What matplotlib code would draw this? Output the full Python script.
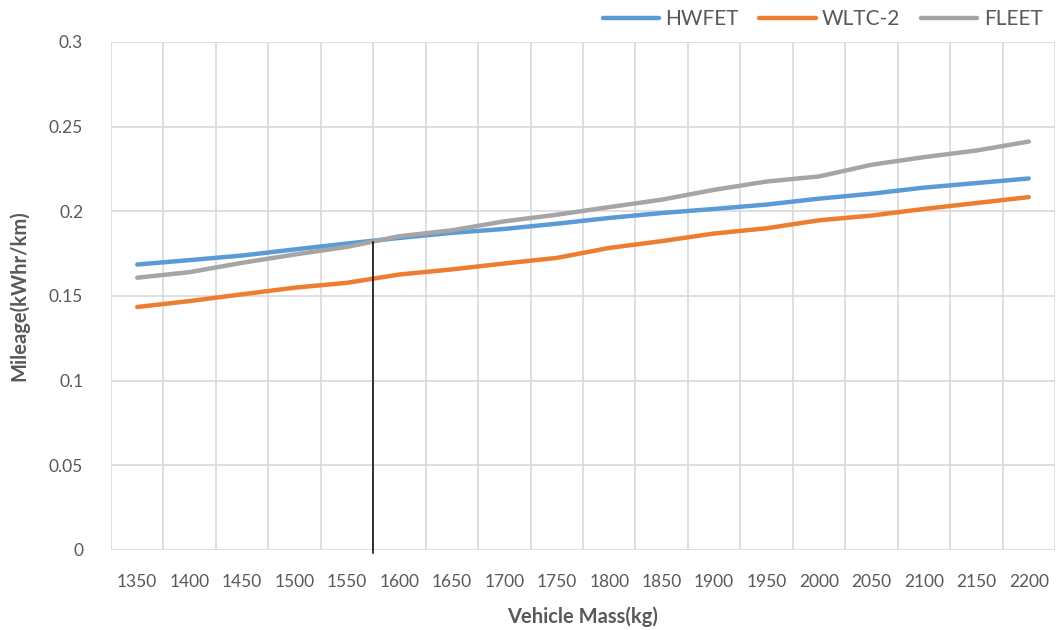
import matplotlib
matplotlib.use('Agg')
import matplotlib.pyplot as plt
import numpy as np

plt.rcParams['font.family'] = ['Lato', 'DejaVu Sans']

# vehicle mass categories (kg)
mass = [1350, 1400, 1450, 1500, 1550, 1600, 1650, 1700, 1750,
        1800, 1850, 1900, 1950, 2000, 2050, 2100, 2150, 2200]

# mileage (kWhr/km) per drive cycle
hwfet = [0.1686, 0.1712, 0.1739, 0.1775, 0.1810, 0.1843, 0.1873, 0.1896, 0.1927,
         0.1961, 0.1990, 0.2014, 0.2040, 0.2075, 0.2104, 0.2140, 0.2167, 0.2194]
wltc2 = [0.1435, 0.1470, 0.1510, 0.1549, 0.1578, 0.1627, 0.1657, 0.1692, 0.1725,
         0.1784, 0.1824, 0.1869, 0.1900, 0.1947, 0.1975, 0.2014, 0.2049, 0.2084]
fleet = [0.1608, 0.1641, 0.1696, 0.1745, 0.1790, 0.1853, 0.1888, 0.1941, 0.1980,
         0.2025, 0.2069, 0.2127, 0.2176, 0.2206, 0.2275, 0.2320, 0.2359, 0.2412]

marker_mass = 1575
marker_top = 0.182

yticks = [0, 0.05, 0.1, 0.15, 0.2, 0.25, 0.3]
yticklabels = ['0', '0.05', '0.1', '0.15', '0.2', '0.25', '0.3']

txt = '#595959'
grid = '#d9d9d9'

fig = plt.figure(figsize=(10.58, 6.3), dpi=100)
ax = fig.add_axes([111/1058, 80/630, 944/1058, 508/630])

idx = np.arange(len(mass))
ax.plot(idx, hwfet, color='#5B9BD5', lw=3.2, solid_capstyle='round', label='HWFET')
ax.plot(idx, wltc2, color='#ED7D31', lw=3.2, solid_capstyle='round', label='WLTC-2')
ax.plot(idx, fleet, color='#A5A5A5', lw=3.2, solid_capstyle='round', label='FLEET')

# marker line at the selected mass (category axis position)
xm = (marker_mass - mass[0]) / (mass[1] - mass[0])
ax.plot([xm, xm], [-0.002, marker_top], color='black', lw=1.1, clip_on=False, zorder=4)

ax.set_xlim(-0.5, len(mass) - 0.5)
ax.set_ylim(0, 0.3)
ax.set_yticks(yticks)
ax.set_yticklabels(yticklabels)
ax.set_xticks(idx)
ax.set_xticklabels([str(m) for m in mass])
# vertical gridlines between categories
for b in np.arange(-0.5, len(mass), 1.0):
    ax.axvline(b, color=grid, lw=1.2, zorder=0)
for y in yticks:
    ax.axhline(y, color=grid, lw=1.2, zorder=0)

for s in ax.spines.values():
    s.set_visible(False)
ax.tick_params(axis='both', length=0, colors=txt, labelsize=12.5)
ax.tick_params(axis='x', pad=17)
ax.tick_params(axis='y', pad=20)

ax.set_xlabel('Vehicle Mass(kg)', fontsize=14.5, fontweight='bold', color=txt, labelpad=12)
ax.set_ylabel('Mileage(kWhr/km)', fontsize=14.5, fontweight='bold', color=txt, labelpad=14)

fig.legend(loc='upper right', bbox_to_anchor=(1.003, 1.015), ncol=3, frameon=False,
           fontsize=15, labelcolor=txt, handlelength=2.7, handletextpad=0.3,
           columnspacing=1.0)

fig.savefig('out.png', dpi=100, facecolor='white')
